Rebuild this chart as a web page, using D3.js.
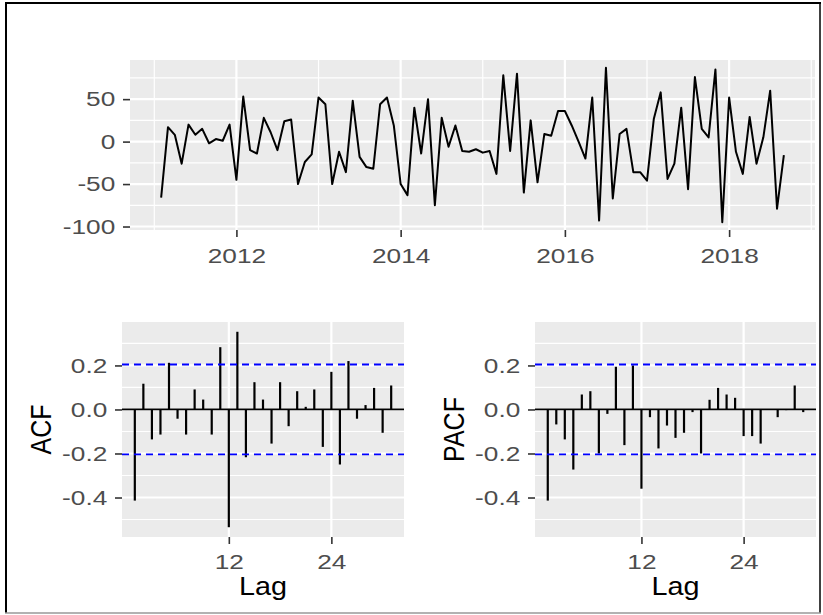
<!DOCTYPE html>
<html>
<head>
<meta charset="utf-8">
<script src="https://cdn.jsdelivr.net/npm/d3@7"></script>
<style>
  body { margin: 0; background: #fff; }
  svg { display: block; font-family: "Liberation Sans", Arial, sans-serif; }
</style>
</head>
<body>
<svg id="chart" width="823" height="615"></svg>
<script>
// monthly series, starts Feb 2011
var startYear = 2011;
var startMonth = 2;
var seriesValues = [
  -66, 17, 8, -26, 20, 8, 15, -2, 3, 1, 20,
  -45, 53, -10, -14, 28, 11, -10, 24, 26, -50, -24, -15,
  52, 44, -50, -12, -36, 48, -18, -30, -32, 44, 52, 19,
  -50, -63, 40, -14, 50, -75, 28, -6, 19, -11, -12, -9,
  -13, -11, -38, 78, -11, 80, -60, 25, -48, 9, 7, 36,
  36, 19, 0, -20, 52, -93, 87, -67, 9, 15, -36, -36,
  -46, 27, 58, -44, -26, 40, -56, 76, 15, 5, 85, -95,
  52, -12, -38, 29, -26, 5, 60, -79, -16
];
var yearTicks = [2012, 2014, 2016, 2018];
var yearMinor = [2011, 2013, 2015, 2017, 2019];
var seriesTicks = [-100, -50, 0, 50];
var seriesMinor = [-75, -25, 25, 75];

var lags = [1, 2, 3, 4, 5, 6, 7, 8, 9, 10, 11, 12, 13, 14, 15, 16,
  17, 18, 19, 20, 21, 22, 23, 24, 25, 26, 27, 28, 29, 30, 31];
var acfValues = [
  -0.414, 0.117, -0.136, -0.114, 0.212, -0.042, -0.114, 0.091, 0.045, -0.114,
  0.283, -0.535, 0.353, -0.217, 0.124, 0.045, -0.155, 0.124, -0.076, 0.083,
  0.012, 0.091, -0.170, 0.171, -0.250, 0.220, -0.042, 0.020, 0.098, -0.106, 0.109
];
var pacfValues = [
  -0.414, -0.068, -0.136, -0.273, 0.068, 0.083, -0.200, -0.020, 0.194, -0.162,
  0.200, -0.360, -0.035, -0.177, -0.073, -0.129, -0.106, -0.012, -0.200, 0.044,
  0.098, 0.068, 0.053, -0.121, -0.121, -0.155, 0.002, -0.035, -0.003, 0.109, -0.012
];
var corTicks = [-0.4, -0.2, 0, 0.2];
var corMinor = [-0.5, -0.3, -0.1, 0.1, 0.3];
var lagTicks = [12, 24];

var svg = d3.select("#chart");
var tickFont = 20.5, titleFont = 25;
var textStretch = "scale(1.28,1)";

function expand(ext) {
  var d = (ext[1] - ext[0]) * 0.05;
  return [ext[0] - d, ext[1] + d];
}

// grey panel with white grid, ggplot style
function drawPanel(box, x, y, xMajor, xMinor, yMajor, yMinor) {
  var g = svg.append("g");
  g.append("rect")
    .attr("x", box.left).attr("y", box.top)
    .attr("width", box.right - box.left).attr("height", box.bottom - box.top)
    .attr("fill", "#EBEBEB");
  g.selectAll(".ymin").data(yMinor).enter().append("line")
    .attr("x1", box.left).attr("x2", box.right)
    .attr("y1", d => y(d)).attr("y2", d => y(d))
    .attr("stroke", "#fff").attr("stroke-width", 1.2);
  g.selectAll(".xmin").data(xMinor).enter().append("line")
    .attr("x1", d => x(d)).attr("x2", d => x(d))
    .attr("y1", box.top).attr("y2", box.bottom)
    .attr("stroke", "#fff").attr("stroke-width", 1.2);
  g.selectAll(".ymaj").data(yMajor).enter().append("line")
    .attr("x1", box.left).attr("x2", box.right)
    .attr("y1", d => y(d)).attr("y2", d => y(d))
    .attr("stroke", "#fff").attr("stroke-width", 2.2);
  g.selectAll(".xmaj").data(xMajor).enter().append("line")
    .attr("x1", d => x(d)).attr("x2", d => x(d))
    .attr("y1", box.top).attr("y2", box.bottom)
    .attr("stroke", "#fff").attr("stroke-width", 2.2);
  return g;
}

function styleAxis(g) {
  g.select(".domain").remove();
  g.selectAll(".tick line").attr("stroke", "#333").attr("stroke-width", 1.6);
  g.selectAll(".tick text")
    .attr("fill", "#4D4D4D")
    .style("font-size", tickFont + "px")
    .attr("transform", textStretch);
}

function drawAxes(box, x, y, xTicks, yTicks, xFmt, yFmt, yPad, xPad) {
  svg.append("g")
    .attr("transform", `translate(${box.left},0)`)
    .call(d3.axisLeft(y).tickValues(yTicks).tickSize(7).tickPadding(yPad).tickFormat(yFmt))
    .call(styleAxis);
  svg.append("g")
    .attr("transform", `translate(0,${box.bottom})`)
    .call(d3.axisBottom(x).tickValues(xTicks).tickSize(7).tickPadding(xPad).tickFormat(xFmt))
    .call(styleAxis);
}

// top: the series itself
var times = seriesValues.map((v, i) => startYear + (startMonth - 1 + i) / 12);
var topBox = {left: 130, right: 815, top: 60, bottom: 230};
var xTime = d3.scaleLinear().domain(expand(d3.extent(times))).range([topBox.left, topBox.right]);
var yVal = d3.scaleLinear().domain(expand(d3.extent(seriesValues))).range([topBox.bottom, topBox.top]);

drawPanel(topBox, xTime, yVal, yearTicks, yearMinor, seriesTicks, seriesMinor);
var line = d3.line().x((d, i) => xTime(times[i])).y(d => yVal(d));
svg.append("path")
  .datum(seriesValues)
  .attr("d", line)
  .attr("fill", "none")
  .attr("stroke", "#000")
  .attr("stroke-width", 2)
  .attr("stroke-linejoin", "round");
drawAxes(topBox, xTime, yVal, yearTicks, seriesTicks, d3.format("d"), d => String(d), 4.5, 11);

// acf / pacf share the y range
var ci = 1.96 / Math.sqrt(seriesValues.length);
var yCor = expand(d3.extent(acfValues.concat(pacfValues, [ci, -ci])));
var hyphen = d => d3.format(".1f")(d).replace("\u2212", "-");

function corPanel(box, values, title, titleX) {
  var x = d3.scaleLinear().domain(expand(d3.extent(lags))).range([box.left, box.right]);
  var y = d3.scaleLinear().domain(yCor).range([box.bottom, box.top]);
  var g = drawPanel(box, x, y, lagTicks, [], corTicks, corMinor);
  g.append("line")
    .attr("x1", box.left).attr("x2", box.right)
    .attr("y1", y(0)).attr("y2", y(0))
    .attr("stroke", "#000").attr("stroke-width", 1.8);
  g.selectAll(".bar").data(values).enter().append("line")
    .attr("x1", (d, i) => x(lags[i])).attr("x2", (d, i) => x(lags[i]))
    .attr("y1", y(0)).attr("y2", d => y(d))
    .attr("stroke", "#000").attr("stroke-width", 2.2);
  g.selectAll(".ci").data([ci, -ci]).enter().append("line")
    .attr("x1", box.left).attr("x2", box.right)
    .attr("y1", d => y(d)).attr("y2", d => y(d))
    .attr("stroke", "#0000FF").attr("stroke-width", 1.8)
    .attr("stroke-dasharray", "7,5");
  drawAxes(box, x, y, lagTicks, corTicks, d3.format("d"), hyphen, 4.5, 10);

  svg.append("text")
    .attr("transform", `translate(${titleX},${(box.top + box.bottom) / 2}) scale(1.2,1) rotate(-90)`)
    .attr("text-anchor", "middle")
    .style("font-size", titleFont + "px")
    .text(title);
  svg.append("text")
    .attr("transform", `translate(${(box.left + box.right) / 2},595) scale(1.15,1)`)
    .attr("text-anchor", "middle")
    .style("font-size", titleFont + "px")
    .text("Lag");
}

corPanel({left: 122, right: 404, top: 322, bottom: 537}, acfValues, "ACF", 51);
corPanel({left: 535, right: 816, top: 322, bottom: 537}, pacfValues, "PACF", 464);

// frame round the picture
svg.append("line").attr("x1", 6).attr("x2", 6).attr("y1", 2).attr("y2", 613)
  .attr("stroke", "#000").attr("stroke-width", 2);
svg.append("line").attr("x1", 5).attr("x2", 821).attr("y1", 3).attr("y2", 3)
  .attr("stroke", "#000").attr("stroke-width", 2);
svg.append("line").attr("x1", 820).attr("x2", 820).attr("y1", 2).attr("y2", 613)
  .attr("stroke", "#000").attr("stroke-width", 1.5);
svg.append("line").attr("x1", 5).attr("x2", 821).attr("y1", 613).attr("y2", 613)
  .attr("stroke", "#999").attr("stroke-width", 1.5);
</script>
</body>
</html>
